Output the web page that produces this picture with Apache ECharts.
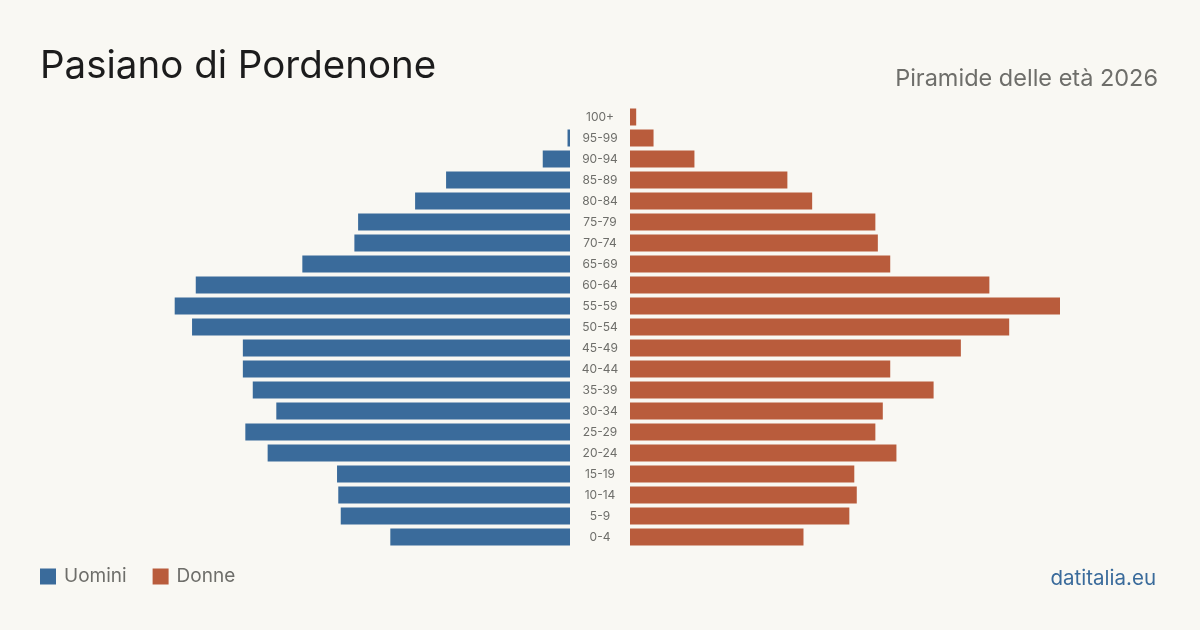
<!DOCTYPE html>
<html>
<head>
<meta charset="utf-8">
<script src="https://cdn.jsdelivr.net/npm/echarts@6/dist/echarts.min.js"></script>
<style>
  html, body { margin: 0; padding: 0; background: #f9f8f3; }
  #chart { width: 1200px; height: 630px; }
</style>
</head>
<body>
<div id="chart"></div>
<script>
  // fasce d'età, dal basso verso l'alto
  var ageGroups = ['0-4', '5-9', '10-14', '15-19', '20-24', '25-29', '30-34', '35-39', '40-44', '45-49',
    '50-54', '55-59', '60-64', '65-69', '70-74', '75-79', '80-84', '85-89', '90-94', '95-99', '100+'];
  var uomini = [145, 185, 187, 188, 244, 262, 237, 256, 264, 264,
    305, 319, 302, 216, 174, 171, 125, 100, 22, 2, 0];
  var donne = [140, 177, 183, 181, 215, 198, 204, 245, 210, 267,
    306, 347, 290, 210, 200, 198, 147, 127, 52, 19, 5];

  var maxVal = 347;
  var blue = '#3a6b9b';
  var orange = '#b95c3c';
  var font = 'Inter, "Noto Sans", sans-serif';

  var chart = echarts.init(document.getElementById('chart'));

  chart.setOption({
    backgroundColor: '#f9f8f3',
    animation: false,
    textStyle: { fontFamily: font },
    title: [{
      text: 'Pasiano di Pordenone',
      left: 35,
      top: 42,
      textStyle: { fontSize: 38.5, fontWeight: 'normal', color: '#1c1c1c', fontFamily: font }
    }, {
      text: 'Piramide delle età 2026',
      right: 37,
      top: 62,
      textStyle: { fontSize: 23.5, fontWeight: 'normal', color: '#6e6e6a', fontFamily: font }
    }, {
      text: 'datitalia.eu',
      right: 39,
      top: 563,
      textStyle: { fontSize: 20.5, fontWeight: 'normal', color: '#3a6b9b', fontFamily: font }
    }],
    legend: {
      left: 40,
      top: 567,
      padding: 0,
      itemWidth: 16,
      itemHeight: 16,
      itemGap: 26,
      icon: 'rect',
      textStyle: { fontSize: 19, color: '#6e6e6a', fontFamily: font, padding: [0, 0, 0, 3] },
      data: ['Uomini', 'Donne']
    },
    grid: [
      { left: 140, width: 430, top: 106.5, height: 441 },
      { left: 630, width: 430, top: 106.5, height: 441 }
    ],
    xAxis: [
      { gridIndex: 0, type: 'value', min: 0, max: maxVal, inverse: true, show: false },
      { gridIndex: 1, type: 'value', min: 0, max: maxVal, show: false }
    ],
    yAxis: [
      { gridIndex: 0, type: 'category', data: ageGroups, show: false },
      {
        gridIndex: 1, type: 'category', data: ageGroups,
        axisLine: { show: false }, axisTick: { show: false },
        axisLabel: { align: 'center', margin: 30, fontSize: 12, color: '#6e6e6a', fontFamily: font }
      }
    ],
    series: [{
      name: 'Uomini',
      type: 'bar',
      xAxisIndex: 0,
      yAxisIndex: 0,
      barWidth: 17,
      itemStyle: { color: blue },
      data: uomini
    }, {
      name: 'Donne',
      type: 'bar',
      xAxisIndex: 1,
      yAxisIndex: 1,
      barWidth: 17,
      itemStyle: { color: orange },
      data: donne
    }]
  });
</script>
</body>
</html>
